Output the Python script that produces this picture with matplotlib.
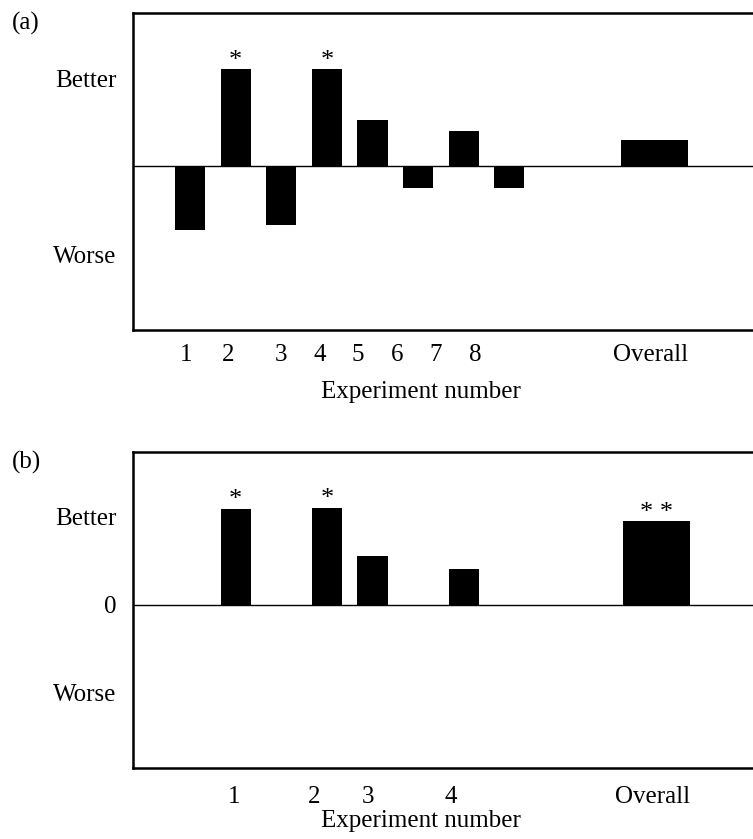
import matplotlib.pyplot as plt

# panel (a): eight experiments + overall
a_pos = [1, 2, 3, 4, 5, 6, 7, 8, 11.19]
a_vals = [-0.73, 1.10, -0.67, 1.10, 0.53, -0.25, 0.40, -0.25, 0.30]
a_width = [0.66] * 8 + [1.47]
a_stars = ['', '*', '', '*', '', '', '', '', '']
a_tick_pos = [0.91, 1.83, 3.0, 3.85, 4.68, 5.54, 6.39, 7.25, 11.1]
a_tick_lab = ['1', '2', '3', '4', '5', '6', '7', '8', 'Overall']

# panel (b): four experiments + overall
b_pos = [2, 4, 5, 7, 11.23]
b_vals = [1.09, 1.10, 0.55, 0.41, 0.95]
b_width = [0.66] * 4 + [1.47]
b_stars = ['*', '*', '', '', '* *']
b_tick_pos = [1.96, 3.72, 4.9, 6.72, 11.15]
b_tick_lab = ['1', '2', '3', '4', 'Overall']

plt.rcParams['font.family'] = ['Liberation Serif', 'DejaVu Serif']
fs = 18

fig = plt.figure(figsize=(7.53, 8.39), dpi=100)


def panel(rect, pos, vals, widths, stars, tpos, tlab, ytk, ylab, tag, xpad, label_y):
    ax = fig.add_axes(rect)
    ax.bar(pos, vals, width=widths, color='black', edgecolor='black', linewidth=0)
    ax.axhline(0, color='black', lw=1.0, zorder=1)
    for x, v, s in zip(pos, vals, stars):
        if s:
            ax.annotate(s, (x, v), xytext=(0, 2), textcoords='offset points',
                        ha='center', va='baseline', fontsize=19)
    ax.set_xlim(-0.25, 13.5)
    ax.set_ylim(-1.86, 1.74)
    ax.set_xticks(tpos)
    ax.set_xticklabels(tlab, fontsize=fs)
    ax.set_yticks(ytk)
    ax.set_yticklabels(ylab, fontsize=fs)
    ax.tick_params(length=0, pad=12)
    ax.tick_params(axis='x', pad=xpad)
    for sp in ax.spines.values():
        sp.set_linewidth(1.8)
    # x label sits a bit left of the axes centre, as in the reference
    fig.text(421 / 753, 1 - label_y / 839, 'Experiment number', fontsize=fs,
             ha='center', va='center')
    fig.text(0.016, rect[1] + rect[3] - 0.012, tag, fontsize=fs, va='center', ha='left')
    return ax


panel([0.1766, 0.6067, 0.833, 0.3778], a_pos, a_vals, a_width, a_stars,
      a_tick_pos, a_tick_lab, [1, -1], ['Better', 'Worse'], '(a)', 10, 392)
panel([0.1766, 0.0846, 0.833, 0.3767], b_pos, b_vals, b_width, b_stars,
      b_tick_pos, b_tick_lab, [1, 0, -1], ['Better', '0', 'Worse'], '(b)', 13, 821)

fig.savefig('out.png', dpi=100)
